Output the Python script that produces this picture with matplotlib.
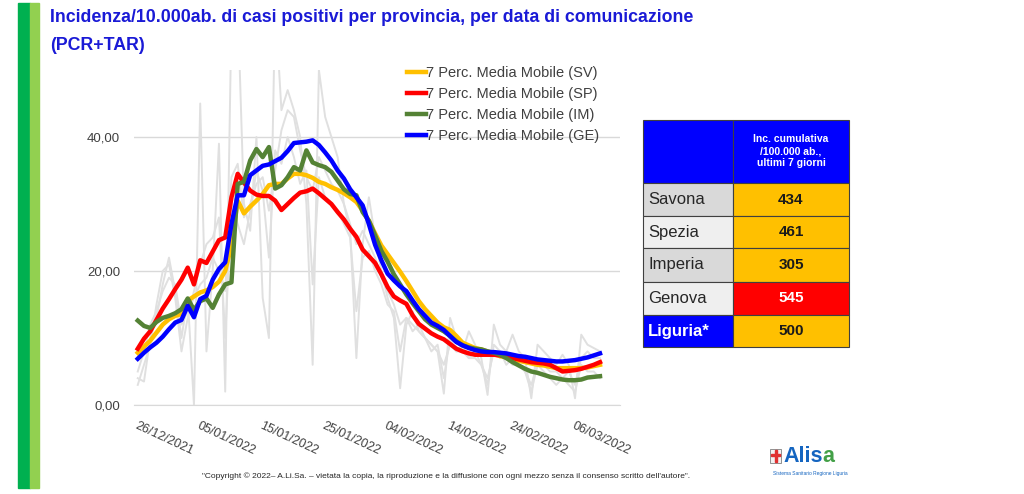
import matplotlib.pyplot as plt
from matplotlib.patches import Rectangle

# giorni dal 26/12/2021 al 10/03/2022
days = list(range(75))
tick_days = [0, 10, 20, 30, 40, 50, 60, 70]
tick_labels = ['26/12/2021', '05/01/2022', '15/01/2022', '25/01/2022',
               '04/02/2022', '14/02/2022', '24/02/2022', '06/03/2022']

# media mobile 7 giorni, incidenza /10.000 ab.
sv = [7.8, 8.7, 9.6, 10.8, 12.0, 12.8, 13.3, 13.6, 15.6, 16.2, 16.8, 17.1, 17.6, 18.4, 20.0,
      23.8, 30.5, 28.6, 29.6, 30.5, 31.5, 32.8, 33.0, 33.0, 33.8, 34.5, 34.5, 34.3, 33.9, 33.3,
      33.0, 32.5, 32.1, 31.6, 31.0, 30.3, 29.0, 27.5, 25.6, 23.8, 22.5, 21.2, 19.9, 18.5, 17.0,
      15.5, 14.3, 13.3, 12.3, 11.6, 11.2, 10.3, 9.3, 8.9, 8.5, 8.3, 8.0, 7.6, 7.3, 7.1,
      6.8, 6.6, 6.4, 6.2, 6.0, 5.9, 5.7, 5.5, 5.5, 5.5, 5.5, 5.5, 5.6, 5.8, 6.0]
sp = [8.4, 9.9, 11.0, 12.7, 14.4, 15.8, 17.3, 18.7, 20.5, 18.0, 21.6, 21.2, 22.9, 24.6, 25.0,
      31.0, 34.5, 33.2, 32.0, 31.4, 31.2, 31.2, 30.5, 29.1, 30.0, 30.9, 31.7, 31.9, 32.3, 31.6,
      30.8, 30.0, 28.8, 27.7, 26.3, 25.1, 23.2, 22.2, 21.2, 19.5, 17.6, 16.2, 15.6, 15.1, 13.4,
      12.1, 11.4, 10.7, 10.2, 9.8, 9.1, 8.4, 8.0, 7.7, 7.5, 7.5, 7.5, 7.5, 7.4, 7.2,
      7.0, 6.8, 6.6, 6.4, 6.3, 6.2, 6.0, 5.5, 5.0, 5.1, 5.2, 5.4, 5.7, 6.0, 6.4]
im = [12.6, 11.8, 11.5, 12.4, 13.0, 13.3, 13.7, 14.3, 15.9, 14.2, 15.5, 15.9, 14.5, 16.5, 18.0,
      18.3, 33.0, 33.3, 36.5, 38.2, 37.0, 38.5, 32.3, 32.8, 34.0, 35.5, 35.0, 38.0, 36.2, 35.8,
      35.5, 34.8, 33.5, 32.2, 31.5, 31.3, 28.8, 27.5, 25.3, 23.0, 21.4, 19.5, 18.0, 16.5, 15.2,
      14.0, 12.8, 12.0, 11.5, 11.0, 10.3, 9.5, 8.9, 8.6, 8.4, 8.3, 8.0, 7.8, 7.5, 7.0,
      6.4, 5.9, 5.4, 5.0, 4.8, 4.5, 4.2, 4.0, 3.8, 3.7, 3.7, 3.8, 4.1, 4.2, 4.3]
ge = [6.9, 7.8, 8.6, 9.3, 10.2, 11.3, 12.3, 12.7, 14.8, 13.1, 15.8, 16.3, 18.7, 20.3, 21.3,
      27.0, 31.3, 31.3, 34.3, 35.0, 35.7, 35.9, 36.4, 36.9, 37.9, 39.1, 39.2, 39.3, 39.5, 38.8,
      37.7, 36.5, 35.0, 33.8, 32.2, 31.0, 29.8, 27.0, 23.9, 21.6, 19.6, 18.6, 17.7, 17.0, 15.6,
      14.3, 13.3, 12.3, 11.8, 11.2, 10.3, 9.4, 8.9, 8.5, 8.2, 8.0, 7.9, 7.9, 7.8, 7.7,
      7.5, 7.3, 7.2, 7.0, 6.8, 6.7, 6.6, 6.5, 6.5, 6.6, 6.7, 6.9, 7.1, 7.4, 7.7]

# valori giornalieri (linee grigie)
daily_a = [4, 3.5, 10, 13, 18, 22, 17, 10, 16, 0, 45, 8, 20, 39, 2,
           58, 60, 30, 26, 40, 16, 10, 60, 44, 47, 44, 40, 30, 6, 50,
           43, 40, 37, 30, 26, 7, 24, 31, 25, 20, 16, 13, 2.5, 12, 14,
           11, 10, 9, 8, 1.7, 13, 10, 8, 11, 9, 7, 1.5, 12, 9, 8,
           10.5, 8, 7, 1, 9, 8, 7, 6, 7.5, 6, 1, 10.5, 9, 8.5, 8]
daily_b = [5, 8, 12, 14, 17, 19, 18, 12, 14, 16, 18, 19, 22, 20, 17,
           34, 36, 28, 30, 33, 34, 29, 35, 41, 44, 43, 38, 34, 32, 37,
           35, 33, 32, 30, 27, 24, 26, 24, 22, 19, 17, 15, 12, 13, 12,
           11, 10, 9, 8, 6, 9, 8, 8, 7, 7, 6, 4, 8, 7, 7,
           6, 6, 5, 3, 6, 6, 5, 5, 4, 5, 3, 7, 8, 7, 7]
daily_c = [3, 6, 9, 15, 20, 21, 16, 8, 13, 17, 21, 24, 25, 28, 10,
           30, 27, 24, 29, 35, 32, 22, 38, 36, 40, 37, 33, 35, 18, 34,
           31, 30, 29, 27, 25, 14, 22, 23, 20, 18, 15, 14, 8, 13, 11,
           12, 10, 8, 9, 4, 10, 8, 9, 7, 8, 6, 3, 9, 8, 6,
           7, 6, 5, 2, 6, 5, 4, 3, 4, 3, 2, 6, 5, 5, 4]

# tabella
provinces = ['Savona', 'Spezia', 'Imperia', 'Genova', 'Liguria*']
cum_values = ['434', '461', '305', '545', '500']

plt.rcParams['font.family'] = ['Liberation Sans', 'DejaVu Sans']

fig = plt.figure(figsize=(10.24, 4.94), dpi=100)
W, H = 1024, 494

# barra verde a sinistra
fig.patches.append(Rectangle((18 / W, 6 / H), 12 / W, 485 / H, transform=fig.transFigure,
                             color='#00b050', zorder=0))
fig.patches.append(Rectangle((30 / W, 6 / H), 9 / W, 485 / H, transform=fig.transFigure,
                             color='#92d050', zorder=0))

fig.text(50 / W, 1 - 18 / H, 'Incidenza/10.000ab. di casi positivi per provincia, per data di comunicazione',
         color='#1a1ad6', fontsize=12.8, fontweight='bold', va='center', ha='left')
fig.text(50 / W, 1 - 45 / H, '(PCR+TAR)',
         color='#1a1ad6', fontsize=12.8, fontweight='bold', va='center', ha='left')

ax = fig.add_axes([134 / W, 89 / H, 486 / W, 335 / H])
for d in [daily_a, daily_b, daily_c]:
    ax.plot(days, d, color='#e0e0e0', lw=1.4, zorder=1)

ax.plot(days, sv, color='#ffc000', lw=3.2, label='7 Perc. Media Mobile (SV)', zorder=3)
ax.plot(days, sp, color='#ff0000', lw=3.2, label='7 Perc. Media Mobile (SP)', zorder=3)
ax.plot(days, im, color='#548235', lw=3.2, label='7 Perc. Media Mobile (IM)', zorder=3)
ax.plot(days, ge, color='#0000ff', lw=3.2, label='7 Perc. Media Mobile (GE)', zorder=3)

ax.set_xlim(-0.6, 77.2)
ax.set_ylim(0, 50)
ax.set_yticks([0, 20, 40])
ax.set_yticklabels(['0,00', '20,00', '40,00'])
ax.set_xticks(tick_days)
ax.set_xticklabels(tick_labels, rotation=-25, ha='left', va='top', rotation_mode='anchor')
ax.grid(axis='y', color='#d9d9d9', lw=1)
ax.set_axisbelow(True)
for s in ['top', 'right', 'left']:
    ax.spines[s].set_visible(False)
ax.spines['bottom'].set_color('#d9d9d9')
ax.tick_params(axis='both', length=0, colors='#404040')
ax.tick_params(axis='y', pad=10, labelsize=9.5)
ax.tick_params(axis='x', pad=11, labelsize=9)

leg = ax.legend(loc='upper left', bbox_to_anchor=(0.55, 1.03), frameon=False, fontsize=10.5,
                handlelength=1.3, handletextpad=0.0, labelspacing=0.48, borderaxespad=0)
for t in leg.get_texts():
    t.set_color('#404040')

# tabella a destra
x0, xm, x1 = 643, 733, 849
rows_y = [183, 216, 248, 282, 315, 347]
left_colors = ['#d9d9d9', '#efefef', '#d9d9d9', '#efefef', '#0000ff']
right_colors = ['#ffc000', '#ffc000', '#ffc000', '#ff0000', '#ffc000']


def box(xa, ya, xb, yb, color):
    fig.patches.append(Rectangle((xa / W, 1 - yb / H), (xb - xa) / W, (yb - ya) / H,
                                 transform=fig.transFigure, facecolor=color,
                                 edgecolor='#404040', lw=0.8, zorder=2))


box(x0, 120, xm, rows_y[0], '#0000ff')
box(xm, 120, x1, rows_y[0], '#0000ff')
fig.text((xm + x1) / 2 / W, 1 - 151 / H, 'Inc. cumulativa\n/100.000 ab.,\nultimi 7 giorni',
         color='white', fontsize=7.5, fontweight='bold', ha='center', va='center', linespacing=1.3)
for i, (p, v) in enumerate(zip(provinces, cum_values)):
    ya, yb = rows_y[i], rows_y[i + 1]
    box(x0, ya, xm, yb, left_colors[i])
    box(xm, ya, x1, yb, right_colors[i])
    yc = 1 - (ya + yb) / 2 / H
    last = p == 'Liguria*'
    fig.text((x0 + 5) / W, yc, p, color='white' if last else '#262626', fontsize=12,
             fontweight='bold' if last else 'normal', ha='left', va='center')
    fig.text((xm + x1) / 2 / W, yc, v, color='white' if right_colors[i] == '#ff0000' else '#1a1a1a',
             fontsize=11, fontweight='bold', ha='center', va='center')

fig.text(446 / W, 1 - 476 / H,
         '"Copyright \u00a9 2022\u2013 A.Li.Sa. \u2013 vietata la copia, la riproduzione e la diffusione '
         'con ogni mezzo senza il consenso scritto dell\'autore".',
         fontsize=6, color='#262626', ha='center', va='center')

# logo Alisa
fig.patches.append(Rectangle((770 / W, 1 - 463 / H), 11 / W, 14 / H, transform=fig.transFigure,
                             facecolor='#f2f2f2', edgecolor='#808080', lw=0.6, zorder=2))
fig.patches.append(Rectangle((774.5 / W, 1 - 462 / H), 2 / W, 12 / H, transform=fig.transFigure,
                             color='#e03030', zorder=3))
fig.patches.append(Rectangle((771 / W, 1 - 455.5 / H), 9 / W, 2 / H, transform=fig.transFigure,
                             color='#e03030', zorder=3))
t1 = fig.text(783 / W, 1 - 456 / H, 'Alis', color='#1565c0', fontsize=15.5, fontweight='bold',
              ha='left', va='center')
fig.canvas.draw()
bb = t1.get_window_extent()
fig.text(bb.x1 / W, 1 - 456 / H, 'a', color='#43a047', fontsize=15.5, fontweight='bold',
         ha='left', va='center')
fig.text(810 / W, 1 - 473 / H, 'Sistema Sanitario Regione Liguria', color='#1565c0', fontsize=3.5,
         ha='center', va='center')

fig.savefig('out.png', dpi=100, facecolor='white')
